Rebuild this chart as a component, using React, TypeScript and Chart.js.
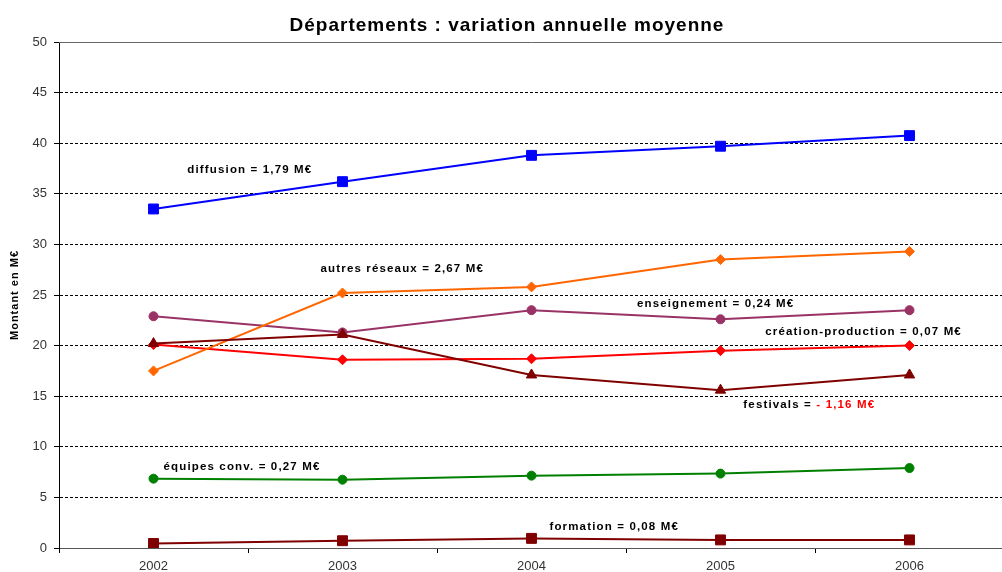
import React, { useEffect, useRef } from "react";
import { Chart, registerables } from "chart.js";

Chart.register(...registerables);

const years = ["2002", "2003", "2004", "2005", "2006"];
const diffusion = [33.5, 36.2, 38.8, 39.7, 40.75];
const autresReseaux = [17.5, 25.2, 25.8, 28.5, 29.3];
const enseignement = [22.9, 21.3, 23.5, 22.6, 23.5];
const creationProduction = [20.1, 18.6, 18.7, 19.5, 20.0];
const festivals = [20.2, 21.1, 17.1, 15.6, 17.1];
const equipesConv = [6.85, 6.75, 7.15, 7.35, 7.9];
const formation = [0.45, 0.72, 0.95, 0.8, 0.8];

const titleText = "Départements : variation annuelle moyenne";
const yAxisTitle = "Montant en M€";

// annotation labels: [category index (fractional), value, parts]
const annotations: { x: number; y: number; parts: [string, string][] }[] = [
  { x: 0.179, y: 37.35, parts: [["diffusion = 1,79 M€", "#000"]] },
  { x: 0.884, y: 27.57, parts: [["autres réseaux = 2,67 M€", "#000"]] },
  { x: 2.558, y: 24.11, parts: [["enseignement = 0,24 M€", "#000"]] },
  { x: 3.237, y: 21.34, parts: [["création-production = 0,07 M€", "#000"]] },
  { x: 3.121, y: 14.13, parts: [["festivals = ", "#000"], ["- 1,16 M€", "#FF0000"]] },
  { x: 0.053, y: 8.0, parts: [["équipes conv. = 0,27 M€", "#000"]] },
  { x: 2.095, y: 2.08, parts: [["formation = 0,08 M€", "#000"]] },
];

const FONT = "'Liberation Sans', Arial, sans-serif";

export default function App() {
  const ref = useRef<HTMLCanvasElement | null>(null);

  useEffect(() => {
    const canvas = ref.current;
    if (!canvas) return;

    const textPlugin = {
      id: "texts",
      afterDraw(chart: any) {
        const ctx = chart.ctx;
        const xs = chart.scales.x;
        const ys = chart.scales.y;
        const area = chart.chartArea;
        ctx.save();
        // top border
        ctx.strokeStyle = "#666";
        ctx.lineWidth = 1;
        ctx.setLineDash([]);
        ctx.beginPath();
        ctx.moveTo(area.left, Math.round(area.top) + 0.5);
        ctx.lineTo(area.right, Math.round(area.top) + 0.5);
        ctx.stroke();
        // title
        ctx.fillStyle = "#000";
        ctx.font = `bold 19px ${FONT}`;
        (ctx as any).letterSpacing = "1px";
        ctx.textAlign = "center";
        ctx.textBaseline = "alphabetic";
        ctx.fillText(titleText, 507, 31);
        // y axis title
        ctx.save();
        ctx.translate(15, (area.top + area.bottom) / 2);
        ctx.rotate(-Math.PI / 2);
        ctx.font = `bold 11px ${FONT}`;
        (ctx as any).letterSpacing = "1px";
        ctx.textBaseline = "middle";
        ctx.fillText(yAxisTitle, 0, 0);
        ctx.restore();
        // annotations
        ctx.font = `bold 11.5px ${FONT}`;
        (ctx as any).letterSpacing = "1.15px";
        ctx.textAlign = "left";
        ctx.textBaseline = "middle";
        for (const a of annotations) {
          let px = xs.getPixelForValue(a.x);
          const py = ys.getPixelForValue(a.y);
          for (const [t, c] of a.parts) {
            ctx.fillStyle = c;
            ctx.fillText(t, px, py);
            px += ctx.measureText(t).width;
          }
        }
        ctx.restore();
      },
    };

    const mk = (label: string, data: number[], color: string, style: string, radius: number) => ({
      label,
      data,
      borderColor: color,
      backgroundColor: color,
      borderWidth: 2,
      pointStyle: style,
      pointRadius: radius,
      pointBorderWidth: 1,
      pointBorderColor: color,
      pointBackgroundColor: color,
      tension: 0,
    });

    const chart = new Chart(canvas, {
      type: "line",
      data: {
        labels: years,
        datasets: [
          mk("diffusion", diffusion, "#0000FF", "rect", 7),
          mk("festivals", festivals, "#800000", "triangle", 6),
          mk("autres réseaux", autresReseaux, "#FF6600", "rectRot", 5),
          mk("enseignement", enseignement, "#993366", "circle", 4.5),
          mk("création-production", creationProduction, "#FF0000", "rectRot", 5),
          mk("équipes conv.", equipesConv, "#008000", "circle", 4.5),
          mk("formation", formation, "#800000", "rect", 7),
        ] as any,
      },
      options: {
        responsive: false,
        animation: false,
        devicePixelRatio: 1,
        layout: { padding: { top: 42, right: 3, left: 0, bottom: 0 } },
        plugins: {
          legend: { display: false },
          title: { display: false },
          tooltip: { enabled: false },
        },
        scales: {
          x: {
            offset: true,
            grid: {
              offset: true,
              drawOnChartArea: false,
              drawTicks: true,
              tickLength: 5,
              color: "#000",
            },
            border: { color: "#555", width: 1 },
            ticks: {
              color: "#333",
              font: { family: FONT, size: 13 },
              padding: 6,
              maxRotation: 0,
            },
            afterFit(scale: any) {
              scale.height = 24;
            },
          },
          y: {
            min: 0,
            max: 50,
            ticks: {
              stepSize: 5,
              color: "#333",
              font: { family: FONT, size: 13 },
              padding: 7,
            },
            grid: {
              color: (c: any) => (c.tick && c.tick.value === 50 ? "rgba(0,0,0,0)" : "#000"),
              tickColor: "#000",
              tickLength: 5,
              lineWidth: 1,
            } as any,
            border: {
              color: "#000",
              width: 1,
              dash: (c: any) => (c && c.tick && c.tick.value !== 50 ? [3, 2] : []),
            } as any,
            afterFit(scale: any) {
              scale.width = 59;
            },
          },
        },
      },
      plugins: [textPlugin],
    });
    return () => chart.destroy();
  }, []);

  return (
    <div style={{ position: "fixed", left: 0, top: 0, width: 1012, height: 572, background: "#fff" }}>
      <canvas ref={ref} width={1012} height={572} style={{ display: "block" }} />
    </div>
  );
}
